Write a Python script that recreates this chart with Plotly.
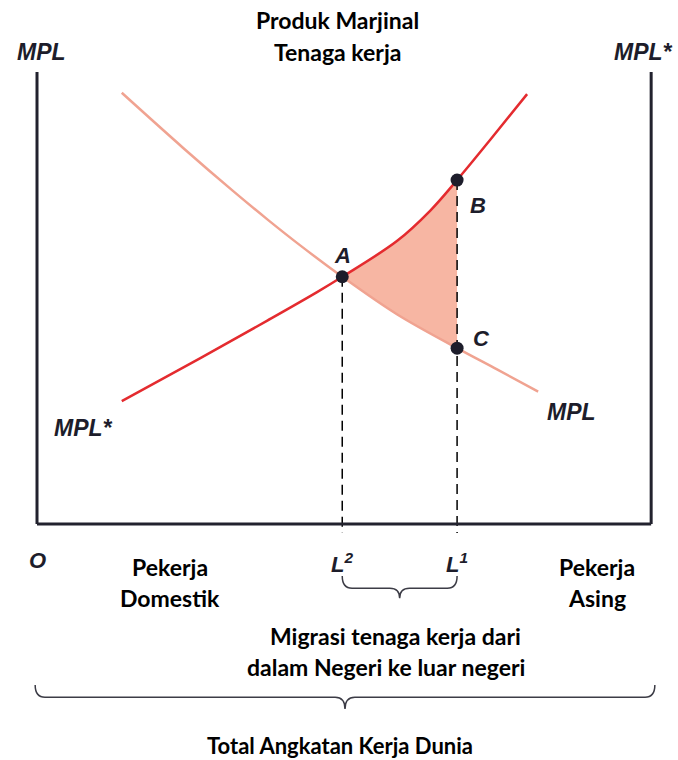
import plotly.graph_objects as go

# ---- data (labour units along the world labour force, MPL in value units) ----
labor_mpl = [13.8, 23.8, 31.9, 37.5, 42.8, 49.7, 58.6, 68.4, 74.9, 81.6]
mpl = [95.4, 83.2, 73.7, 67.4, 61.7, 54.7, 46.4, 38.9, 34.2, 29.3]

labor_mpl_star = [13.8, 26.6, 37.5, 45.6, 49.7, 58.6, 64.0, 68.4, 73.8, 79.8]
mpl_star = [27.2, 36.7, 45.0, 51.3, 54.7, 62.6, 69.3, 76.1, 85.0, 95.1]

L2 = 49.7   # allocation after migration
L1 = 68.4   # initial allocation
point_labels = ["A", "B", "C"]

# derived points
A = (L2, mpl_star[labor_mpl_star.index(L2)])
B = (L1, mpl_star[labor_mpl_star.index(L1)])
C = (L1, mpl[labor_mpl.index(L1)])

# ---- styles ----
RED = "#e42b2f"
SALMON = "#f0a391"
FILL = "#f7b6a3"
INK = "#1d1d2b"
BOLD_FONT = "Lato"
ITAL_FONT = "Liberation Sans"

fig = go.Figure()

# shaded gain area between the curves from L2 to L1
fx = [x for x in labor_mpl_star if L2 <= x <= L1]
fy = [y for x, y in zip(labor_mpl_star, mpl_star) if L2 <= x <= L1]
gx = [x for x in labor_mpl if L2 <= x <= L1][::-1]
gy = [y for x, y in zip(labor_mpl, mpl) if L2 <= x <= L1][::-1]
fig.add_trace(go.Scatter(x=fx + gx, y=fy + gy, fill="toself", fillcolor=FILL,
                         mode="lines", line=dict(width=0), hoverinfo="skip"))

# curves
fig.add_trace(go.Scatter(x=labor_mpl, y=mpl, mode="lines",
                         line=dict(color=SALMON, width=2.5, shape="spline")))
fig.add_trace(go.Scatter(x=labor_mpl_star, y=mpl_star, mode="lines",
                         line=dict(color=RED, width=2.5, shape="spline")))

# dashed verticals
fig.add_trace(go.Scatter(x=[L2, L2], y=[A[1], -2], mode="lines",
                         line=dict(color="black", width=1.5, dash="10px,6px")))
fig.add_trace(go.Scatter(x=[L1, L1], y=[B[1], -2], mode="lines",
                         line=dict(color="black", width=1.5, dash="10px,6px")))

# points
fig.add_trace(go.Scatter(x=[A[0], B[0], C[0]], y=[A[1], B[1], C[1]], mode="markers",
                         marker=dict(color=INK, size=13)))

# frame (two vertical axes and the base line)
frame = dict(color="#22222e", width=3)
fig.add_shape(type="line", x0=0, x1=0, y0=0, y1=100, line=frame)
fig.add_shape(type="line", x0=100, x1=100, y0=0, y1=100, line=frame)
fig.add_shape(type="line", x0=0, x1=100, y0=0, y1=0, line=frame)


def brace_path(x0, x1, ytop, ymid, ytip, r):
    xm = (x0 + x1) / 2
    return (f"M {x0},{ytop} Q {x0},{ymid} {x0 + r},{ymid} L {xm - r},{ymid} "
            f"Q {xm},{ymid} {xm},{ytip} Q {xm},{ymid} {xm + r},{ymid} "
            f"L {x1 - r},{ymid} Q {x1},{ymid} {x1},{ytop}")


fig.add_shape(type="path", path=brace_path(L2, L1, -11.5, -14.2, -16.4, 1.6),
              line=dict(color="#3c3c46", width=1.5))
fig.add_shape(type="path", path=brace_path(-0.3, 100.6, -35.6, -38.3, -40.9, 1.6),
              line=dict(color="#3c3c46", width=1.5))


def bold(text, x, y, size=23, anchor="center"):
    fig.add_annotation(x=x, y=y, text=f"<b>{text}</b>", showarrow=False,
                       xanchor=anchor, yanchor="middle",
                       font=dict(family=BOLD_FONT, size=size, color="black"))


def ital(text, x, y, size=23, anchor="center", xs=0, ys=0):
    fig.add_annotation(x=x, y=y, text=f"<b><i>{text}</i></b>", showarrow=False,
                       xanchor=anchor, yanchor="middle", xshift=xs, yshift=ys,
                       font=dict(family=ITAL_FONT, size=size, color=INK))


bold("Produk Marjinal", 48.9, 111.5)
bold("Tenaga kerja", 48.9, 104.4)
bold("Pekerja", 21.7, -9.5)
bold("Domestik", 21.7, -16.4)
bold("Pekerja", 91.2, -9.5)
bold("Asing", 91.2, -16.4)
bold("Migrasi tenaga kerja dari", 58.3, -24.8)
bold("dalam Negeri ke luar negeri", 56.8, -31.6)
bold("Total Angkatan Kerja Dunia", 49.3, -48.9, size=22)

ital("MPL", 0.7, 104.4)
ital("MPL*", 93.6, 104.4, anchor="left")
ital("MPL*", 7.5, 21.2)
ital("MPL", 87.0, 24.8)
ital("O", 0, -8.0, size=22)
ital("L<sup>2</sup>", L2, -8.6, size=22)
ital("L<sup>1</sup>", L1, -8.6, size=22)
ital(point_labels[0], A[0], A[1], size=22, ys=21)
ital(point_labels[1], B[0], B[1], size=22, xs=21, ys=-25)
ital(point_labels[2], C[0], C[1], size=22, xs=24, ys=10)

fig.update_layout(
    width=678, height=760, autosize=False,
    margin=dict(l=0, r=0, t=0, b=0),
    paper_bgcolor="white", plot_bgcolor="white",
    showlegend=False,
    xaxis=dict(range=[-6.026, 104.37], visible=False, fixedrange=True),
    yaxis=dict(range=[-52.21, 115.93], visible=False, fixedrange=True),
)

fig.write_html("out.html", config={"displayModeBar": False},
               post_script="document.body.style.margin='0px';")
